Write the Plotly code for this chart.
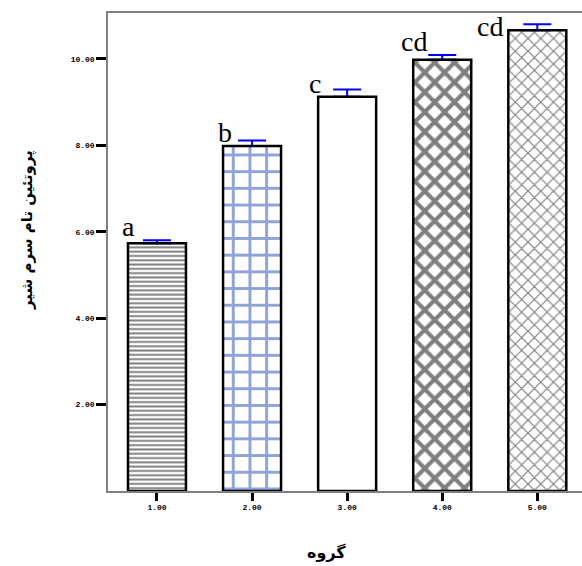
import plotly.graph_objects as go

# ---- data ----
groups = [1, 2, 3, 4, 5]
group_labels = ["1.00", "2.00", "3.00", "4.00", "5.00"]
protein = [5.73, 7.98, 9.12, 9.98, 10.66]
error_up = [0.07, 0.13, 0.17, 0.11, 0.14]
letters = ["a", "b", "c", "cd", "cd"]
y_ticks = [2, 4, 6, 8, 10]
y_tick_labels = ["2.00", "4.00", "6.00", "8.00", "10.00"]
y_title = "پروتئین تام سرم شیر"
x_title = "گروه"

# ---- styles ----
pat_shape = ["-", "+", "", "x", "x"]
pat_fg = ["#000000", "#1f48b0", "#000000", "#000000", "#000000"]
pat_size = [4.3, 16.7, 8, 14, 9]
pat_solid = [0.45, 0.32, 0.3, 0.5, 0.25]
label_dx = [-28.5, -27.5, -32, -28, -47.5]
label_dy = [-4, -9, -11, -4, -20]
BAR_W = 0.61

fig = go.Figure()
fig.add_trace(go.Bar(
    x=groups, y=protein, width=BAR_W,
    marker=dict(color="white",
                line=dict(color="black", width=0),
                pattern=dict(shape=pat_shape, fgcolor=pat_fg, bgcolor="white",
                             size=pat_size, solidity=pat_solid, fillmode="overlay")),
    error_y=dict(type="data", symmetric=False, array=error_up,
                 arrayminus=[0] * len(error_up), color="#0000ff",
                 thickness=2, width=14),
    hoverinfo="skip", showlegend=False,
))
# outline on top (covers lower error cap)
fig.add_trace(go.Bar(
    x=groups, y=protein, width=BAR_W,
    marker=dict(color="rgba(0,0,0,0)", line=dict(color="black", width=2.5)),
    hoverinfo="skip", showlegend=False,
))

for g, v, e, t, dx, dy in zip(groups, protein, error_up, letters, label_dx, label_dy):
    fig.add_annotation(x=g, y=v + e, text=t, showarrow=False,
                       xanchor="center", yanchor="bottom", xshift=dx, yshift=dy,
                       font=dict(family="Liberation Serif", size=28, color="black"))

fig.add_annotation(xref="paper", yref="paper", x=-0.171, y=0.546, text=y_title,
                   textangle=-90, showarrow=False, xanchor="center", yanchor="middle",
                   font=dict(family="DejaVu Sans", size=15, color="black", weight="bold"))
fig.add_annotation(xref="paper", yref="paper", x=0.462, y=-0.128, text=x_title,
                   showarrow=False, xanchor="center", yanchor="middle",
                   font=dict(family="DejaVu Sans", size=16, color="black", weight="bold"))

fig.update_layout(
    width=582, height=566, autosize=False,
    margin=dict(l=108, r=0, t=13, b=75),
    paper_bgcolor="white", plot_bgcolor="white",
    barmode="overlay", showlegend=False,
    xaxis=dict(range=[0.485, 5.47], tickvals=groups, ticktext=group_labels,
               showgrid=False, zeroline=False, showline=True, linecolor="#808080",
               linewidth=1.5, mirror=True, ticks="outside", ticklen=8, tickwidth=2.5,
               tickcolor="black",
               tickfont=dict(family="Liberation Mono", size=8, color="black", weight="bold")),
    yaxis=dict(range=[0, 11.06], tickvals=y_ticks, ticktext=y_tick_labels,
               showgrid=False, zeroline=False, showline=True, linecolor="#808080",
               linewidth=1.5, mirror=False, ticks="outside", ticklen=10, tickwidth=2.5,
               tickcolor="black",
               tickfont=dict(family="Liberation Mono", size=8, color="black", weight="bold")),
)

fig.write_html("out.html", config={"displayModeBar": False},
               post_script="document.body.style.margin='0';")
